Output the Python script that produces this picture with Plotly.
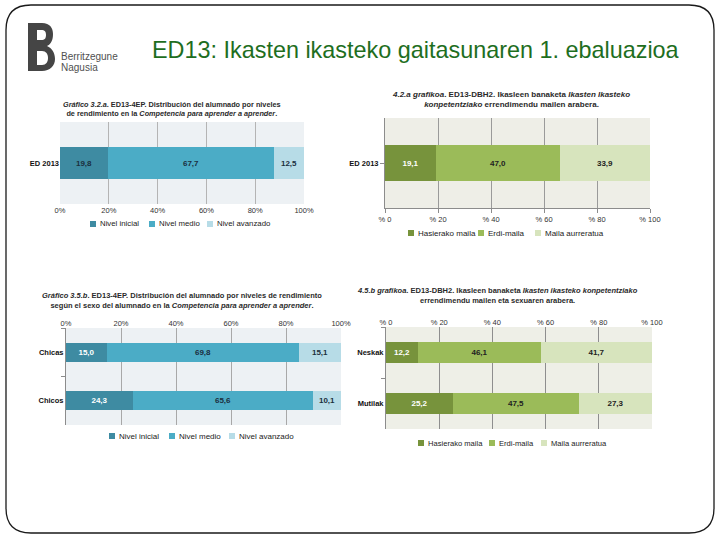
import plotly.graph_objects as go

# ---------------- data ----------------
levels_es = ["Nivel inicial", "Nivel medio", "Nivel avanzado"]
levels_eu = ["Hasierako maila", "Erdi-maila", "Maila aurreratua"]

cat_ep = ["ED 2013"]
ep_inicial = [19.8]
ep_medio = [67.7]
ep_avanzado = [12.5]

cat_dbh = ["ED 2013"]
dbh_hasierako = [19.1]
dbh_erdi = [47.0]
dbh_aurreratua = [33.9]

cat_ep_sex = ["Chicas", "Chicos"]
ep_sex_inicial = [15.0, 24.3]
ep_sex_medio = [69.8, 65.6]
ep_sex_avanzado = [15.1, 10.1]

cat_dbh_sex = ["Neskak", "Mutilak"]
dbh_sex_hasierako = [12.2, 25.2]
dbh_sex_erdi = [46.1, 47.5]
dbh_sex_aurreratua = [41.7, 27.3]

pct_ticks = [0, 20, 40, 60, 80, 100]
ticks_es = ["0%", "20%", "40%", "60%", "80%", "100%"]
ticks_eu = ["% 0", "% 20", "% 40", "% 60", "% 80", "% 100"]

# ---------------- helpers ----------------
W, H = 720, 540
def px(x): return x / W
def py(y): return 1 - y / H

def pth(cmds):
    out = []
    for c in cmds:
        if c[0] == "Z":
            out.append("Z")
        else:
            out.append(c[0] + " ".join(f"{px(a):.5f},{py(b):.5f}" for a, b in c[1:]))
    return " ".join(out)

def fmt(vals):
    return [f"{v:.1f}".replace(".", ",") for v in vals]

FONT = "Liberation Sans Narrow, Liberation Sans, Arial, sans-serif"
ARIAL = "Liberation Sans, Arial, sans-serif"

BLUE = ["#3E8BA2", "#4BACC6", "#B7DCE7"]
GREEN = ["#77933C", "#9BBB59", "#D7E4BD"]

fig = go.Figure()

def add_bars(cats, series, names, colors, txtcolors, xa, ya, width):
    for vals, nm, col, tc in zip(series, names, colors, txtcolors):
        fig.add_trace(go.Bar(
            y=cats, x=vals, orientation="h", name=nm, showlegend=False,
            marker=dict(color=col, line=dict(width=0)),
            text=fmt(vals), textposition="inside", insidetextanchor="middle",
            textangle=0, constraintext="none",
            textfont=dict(family=FONT, size=8, color=tc, weight="bold"),
            xaxis=xa, yaxis=ya, width=width,
            hoverinfo="skip"))

add_bars(cat_ep, [ep_inicial, ep_medio, ep_avanzado], levels_es, BLUE,
         ["#1B2F3E", "#1B2F3E", "#1B2F3E"], "x", "y", 0.38)
add_bars(cat_dbh, [dbh_hasierako, dbh_erdi, dbh_aurreratua], levels_eu, GREEN,
         ["#FFFFFF", "#222222", "#222222"], "x2", "y2", 0.39)
add_bars(cat_ep_sex, [ep_sex_inicial, ep_sex_medio, ep_sex_avanzado], levels_es, BLUE,
         ["#FFFFFF", "#1B2F3E", "#1B2F3E"], "x3", "y3", 0.39)
add_bars(cat_dbh_sex, [dbh_sex_hasierako, dbh_sex_erdi, dbh_sex_aurreratua], levels_eu, GREEN,
         ["#FFFFFF", "#222222", "#222222"], "x4", "y4", 0.41)

tickf = dict(family=FONT, size=7.5, color="#333333")
catf = dict(family=FONT, size=7.5, color="#111111", weight="bold")

def xax(dom, anchor, ticktext, side="bottom", grid="#A8A8A8", line=False):
    return dict(domain=[px(dom[0]), px(dom[1])], anchor=anchor, range=[0, 100],
                tickvals=pct_ticks, ticktext=ticktext, side=side,
                showgrid=True, gridcolor=grid, gridwidth=1, zeroline=False,
                showline=line, linecolor="#8C8C8C", linewidth=1,
                ticks="outside" if line else "", ticklen=4, tickcolor="#8C8C8C",
                tickfont=tickf, fixedrange=True, automargin=False)

def yax(dom, anchor, cats, rng, line=False, boundaries=False):
    d = dict(domain=[py(dom[1]), py(dom[0])], anchor=anchor, type="category",
             categoryorder="array", categoryarray=cats, range=rng,
             showgrid=False, zeroline=False, tickfont=catf,
             showline=line, linecolor="#8C8C8C", linewidth=1,
             ticks="outside" if line else "", ticklen=4, tickcolor="#8C8C8C",
             fixedrange=True, automargin=False)
    if boundaries:
        d["tickson"] = "boundaries"
    return d

fig.update_layout(
    template="none",
    width=W, height=H, margin=dict(l=0, r=0, t=0, b=0, autoexpand=False),
    paper_bgcolor="white", plot_bgcolor="rgba(0,0,0,0)",
    barmode="stack", bargap=0, showlegend=False,
    font=dict(family=FONT),
    xaxis=xax((60, 304), "y", ticks_es, grid="#B4B4B4"),
    yaxis=yax((122, 204), "x", cat_ep, [-0.5, 0.5]),
    xaxis2=xax((385, 650), "y2", ticks_eu, grid="#9A9A9A", line=True),
    yaxis2=yax((118, 208), "x2", cat_dbh, [-0.5, 0.5], line=True),
    xaxis3=xax((66, 341), "y3", ticks_es, side="top", grid="#A8A8A8"),
    yaxis3=yax((328, 425), "x3", cat_ep_sex, [1.5, -0.5], line=True, boundaries=True),
    xaxis4=xax((386, 652), "y4", ticks_eu, side="top", grid="#8E8E8E"),
    yaxis4=yax((327, 429), "x4", cat_dbh_sex, [1.5, -0.5], line=True, boundaries=True),
)

shapes = []
ann = []

def add_text(x, y, text, size, color="#222222", xanchor="center", family=FONT, align="center"):
    ann.append(dict(x=px(x), y=py(y), xref="paper", yref="paper", text=text,
                    showarrow=False, xanchor=xanchor, yanchor="middle", align=align,
                    font=dict(family=family, size=size, color=color)))

# plot-area backgrounds
for xa, ya, col in [("x", "y", "#EDF1F4"), ("x2", "y2", "#EEEEE7"),
                    ("x3", "y3", "#EDF1F4"), ("x4", "y4", "#EEEFE7")]:
    shapes.append(dict(type="rect", xref=f"{xa} domain", yref=f"{ya} domain",
                       x0=0, x1=1, y0=0, y1=1, fillcolor=col, line=dict(width=0),
                       layer="below"))

# legends (one per chart, built from level names and colours)
def add_legend(names, colors, xs, y, size=7.5):
    for nm, col, x in zip(names, colors, xs):
        shapes.append(dict(type="rect", xref="paper", yref="paper",
                           x0=px(x), x1=px(x + 6), y0=py(y + 3), y1=py(y - 3),
                           fillcolor=col, line=dict(width=0)))
        add_text(x + 8, y, nm, size, "#222222", xanchor="left")

add_legend(levels_es, BLUE, [90, 149, 207], 224, 7.8)
add_legend(levels_eu, GREEN, [408, 478, 535], 233, 8)
add_legend(levels_es, BLUE, [109, 169, 229], 436, 8)
add_legend(levels_eu, GREEN, [418, 489, 541], 443, 7.6)

# slide border (rounded rectangle)
r = 25
L, T, R, B = 6, 5, 714, 533
shapes.append(dict(type="path", xref="paper", yref="paper", layer="above",
                   line=dict(color="#1A1A1A", width=1.3),
                   path=pth([("M", (L + r, T)), ("L", (R - r, T)), ("Q", (R, T), (R, T + r)),
                             ("L", (R, B - r)), ("Q", (R, B), (R - r, B)),
                             ("L", (L + r, B)), ("Q", (L, B), (L, B - r)),
                             ("L", (L, T + r)), ("Q", (L, T), (L + r, T)), ("Z",)])))

# logo "B"
shapes.append(dict(type="path", xref="paper", yref="paper", layer="above",
                   fillcolor="#454545", line=dict(width=0),
                   path=pth([("M", (28, 23)), ("L", (42, 23)),
                             ("C", (50, 23), (53, 28), (53, 34)),
                             ("C", (53, 40), (51, 44), (47, 46)),
                             ("C", (52, 48), (55, 53), (55, 59)),
                             ("C", (55, 66), (50, 71), (42, 71)),
                             ("L", (28, 71)), ("Z",)])))
for cp in [[("M", (37, 30)), ("L", (41, 30)), ("C", (45, 30), (46, 32), (46, 35)),
            ("C", (46, 38), (45, 40), (41, 40)), ("L", (37, 40)), ("Z",)],
           [("M", (37, 51)), ("L", (42, 51)), ("C", (46, 51), (48, 54), (48, 58)),
            ("C", (48, 62), (46, 65), (42, 65)), ("L", (37, 65)), ("Z",)]]:
    shapes.append(dict(type="path", xref="paper", yref="paper", layer="above",
                       fillcolor="white", line=dict(width=0), path=pth(cp)))
fig.update_layout(shapes=shapes)

add_text(416, 50, "ED13: Ikasten ikasteko gaitasunaren 1. ebaluazioa", 23.4, "#1E6E1E",
         family=ARIAL)
add_text(59, 57, "Berritzegune", 10, "#505050", xanchor="left", family=ARIAL)
add_text(59, 67, "Nagusia", 10, "#505050", xanchor="left", family=ARIAL)

add_text(172, 109, "<b><i>Gráfico 3.2.a</i>. ED13-4EP. Distribución del alumnado por niveles<br>"
         "de rendimiento en la <i>Competencia para aprender a aprender</i>.</b>", 7.3, "#2A2A2A")
add_text(511, 99, "<b><i>4.2.a grafikoa</i>. ED13-DBH2. Ikasleen banaketa <i>Ikasten Ikasteko</i><br>"
         "<i>konpetentziako</i> errendimendu mailen arabera.</b>", 8, "#2A2A2A")
add_text(182, 300, "<b><i>Gráfico 3.5.b</i>. ED13-4EP. Distribución del alumnado por niveles de rendimiento<br>"
         "según el sexo del alumnado en la <i>Competencia para aprender a aprender</i>.</b>", 7.5, "#2A2A2A")
add_text(497, 295, "<b><i>4.5.b grafikoa</i>. ED13-DBH2. Ikasleen banaketa <i>Ikasten ikasteko konpetentziako</i><br>"
         "errendimendu mailen eta sexuaren arabera.</b>", 7.5, "#2A2A2A")
fig.update_layout(annotations=ann)

fig.write_html("out.html", config={"displayModeBar": False},
               post_script="document.body.style.margin='0';document.body.style.overflow='hidden';")
